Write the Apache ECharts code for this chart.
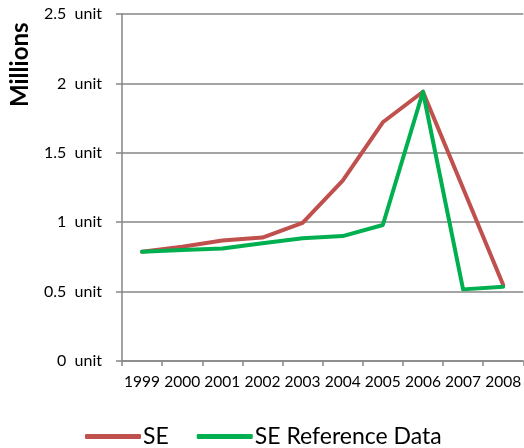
<!DOCTYPE html>
<html>
<head>
<meta charset="utf-8">
<script src="https://cdn.jsdelivr.net/npm/echarts@6/dist/echarts.min.js"></script>
<style>
  html, body { margin: 0; padding: 0; background: #fff; }
  #chart { width: 524px; height: 448px; }
</style>
</head>
<body>
<div id="chart"></div>
<script>
// Yearly values, in millions
const years = ['1999', '2000', '2001', '2002', '2003', '2004', '2005', '2006', '2007', '2008'];
const seValues = [0.787, 0.823, 0.868, 0.889, 0.996, 1.30, 1.72, 1.94, 1.244, 0.548];
const seReferenceValues = [0.787, 0.80, 0.81, 0.848, 0.884, 0.90, 0.98, 1.94, 0.516, 0.535];
const seriesNames = ['SE', 'SE Reference Data'];
const axisTitle = 'Millions';
const unitSuffix = 'unit';

const FONT = 'Lato, "Open Sans", sans-serif';
const AXIS_GRAY = '#868686';

const chart = echarts.init(document.getElementById('chart'), null, { renderer: 'canvas' });

chart.setOption({
  animation: false,
  backgroundColor: '#ffffff',
  grid: { left: 122, top: 14, width: 405, height: 347, containLabel: false },
  legend: {
    data: seriesNames,
    left: 80,
    top: 420,
    icon: 'roundRect',
    itemWidth: 56,
    itemHeight: 5,
    itemGap: 28,
    textStyle: { fontFamily: FONT, fontSize: 23, color: '#000', padding: [0, 0, 0, -3] }
  },
  graphic: [{
    type: 'text',
    rotation: Math.PI / 2,
    x: 8,
    y: 107,
    style: {
      text: axisTitle,
      font: 'bold 24px ' + FONT,
      fill: '#000'
    }
  }],
  xAxis: {
    type: 'category',
    data: years,
    boundaryGap: true,
    axisLine: { lineStyle: { color: AXIS_GRAY, width: 1.5 } },
    axisTick: { show: true, length: 5, lineStyle: { color: AXIS_GRAY, width: 1.5 } },
    axisLabel: { fontFamily: FONT, fontSize: 15.5, color: '#000', margin: 13, interval: 0 },
    splitLine: { show: false }
  },
  yAxis: {
    type: 'value',
    min: 0,
    max: 2.5,
    interval: 0.5,
    axisLine: { show: true, lineStyle: { color: AXIS_GRAY, width: 1.5 } },
    axisTick: { show: true, length: 6, lineStyle: { color: AXIS_GRAY, width: 1.5 } },
    axisLabel: {
      fontFamily: FONT, fontSize: 16, color: '#000', margin: 20,
      formatter: v => v + '  ' + unitSuffix
    },
    splitLine: { show: true, lineStyle: { color: AXIS_GRAY, width: 1.5 } }
  },
  series: [
    {
      name: seriesNames[0],
      type: 'line',
      data: seValues,
      symbol: 'none',
      color: '#C0504D',
      lineStyle: { width: 4, color: '#C0504D', cap: 'round', join: 'round' }
    },
    {
      name: seriesNames[1],
      type: 'line',
      data: seReferenceValues,
      symbol: 'none',
      color: '#00B050',
      lineStyle: { width: 4, color: '#00B050', cap: 'round', join: 'round' }
    }
  ]
});
</script>
</body>
</html>
